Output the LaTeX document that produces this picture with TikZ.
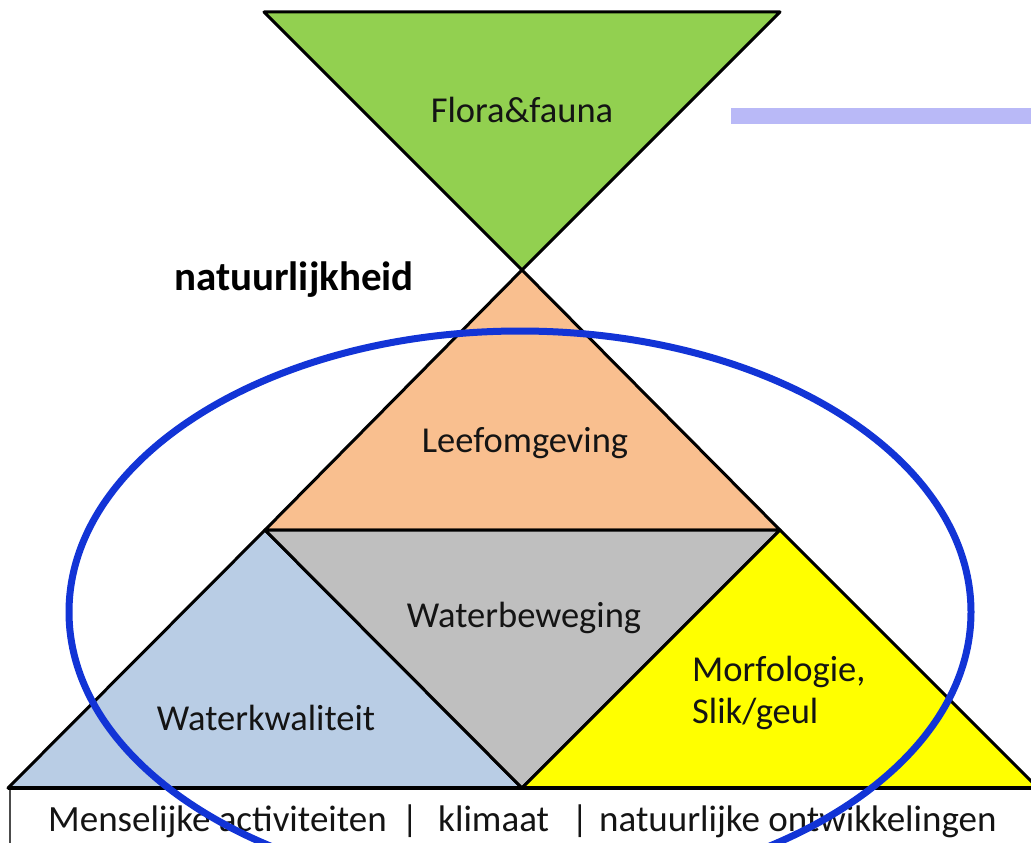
\documentclass[tikz,border=0pt]{standalone}
\usepackage{fontspec}
\setmainfont{Carlito}
\definecolor{cgreen}{HTML}{92D050}
\definecolor{corange}{HTML}{F9BF8F}
\definecolor{cblue}{HTML}{B9CDE5}
\definecolor{cgray}{HTML}{BFBFBF}
\definecolor{cyellow}{HTML}{FFFF00}
\definecolor{cbar}{HTML}{B9B9F7}
\definecolor{cring}{RGB}{18,52,214}
\begin{document}
\begin{tikzpicture}[x=1pt,y=-1pt,
  tri/.style={draw=black,line width=3pt,line join=round},
  lbl/.style={font=\fontsize{36.5}{42}\selectfont,text=black!92,inner sep=0pt},
  foot/.style={font=\fontsize{37}{42}\selectfont,text=black!92,inner sep=0pt},
  bold/.style={font=\fontsize{41}{46}\selectfont\bfseries,inner sep=0pt}]
\useasboundingbox (0,0) rectangle (1031,843);
\begin{scope}
\clip (0,0) rectangle (1031,843);
% coordinates
\coordinate (tl) at (264,12);
\coordinate (tr) at (780,12);
\coordinate (mid) at (522,270);
\coordinate (ml) at (265,530);
\coordinate (mr) at (780,530);
\coordinate (bl) at (8,788);
\coordinate (bm) at (522,788);
\coordinate (br) at (1038,788);
% bottom box
\draw[draw=black!70,line width=2pt,fill=white] (10,788) rectangle (1045,860);
% triangles
\filldraw[tri,fill=cgreen] (tl) -- (tr) -- (mid) -- cycle;
\filldraw[tri,fill=corange] (mid) -- (mr) -- (ml) -- cycle;
\filldraw[tri,fill=cblue] (ml) -- (bm) -- (bl) -- cycle;
\filldraw[tri,fill=cgray] (ml) -- (mr) -- (bm) -- cycle;
\filldraw[tri,fill=cyellow] (mr) -- (br) -- (bm) -- cycle;
\draw[line width=4pt] (bl) -- (br);
% bar
\fill[cbar] (731,108) rectangle (1031,124);
% labels
\node[lbl] (flora) at (522,110) {Flora\&fauna};
\node[bold] (nat) at (294,280) {natuurlijkheid};
\node[lbl] (leef) at (525,443) {Leefomgeving};
\node[lbl] (wbew) at (524,618) {Waterbeweging};
\node[lbl] (wkw) at (266,718) {Waterkwaliteit};
\node[lbl,anchor=west,align=left] (morf) at (692,693) {Morfologie,\\Slik/geul};
\node[foot,anchor=base west] (mens) at (48,831) {Menselijke activiteiten};
\node[foot,anchor=base] (p1) at (410,831) {|};
\node[foot,anchor=base west] (klim) at (438,831) {klimaat};
\node[foot,anchor=base] (p2) at (580,831) {|};
\node[foot,anchor=base west] (ontw) at (599,831) {natuurlijke ontwikkelingen};
% ellipse
\draw[cring,line width=7pt] (520,612) ellipse [x radius=451, y radius=281];
\end{scope}
\end{tikzpicture}
\end{document}
